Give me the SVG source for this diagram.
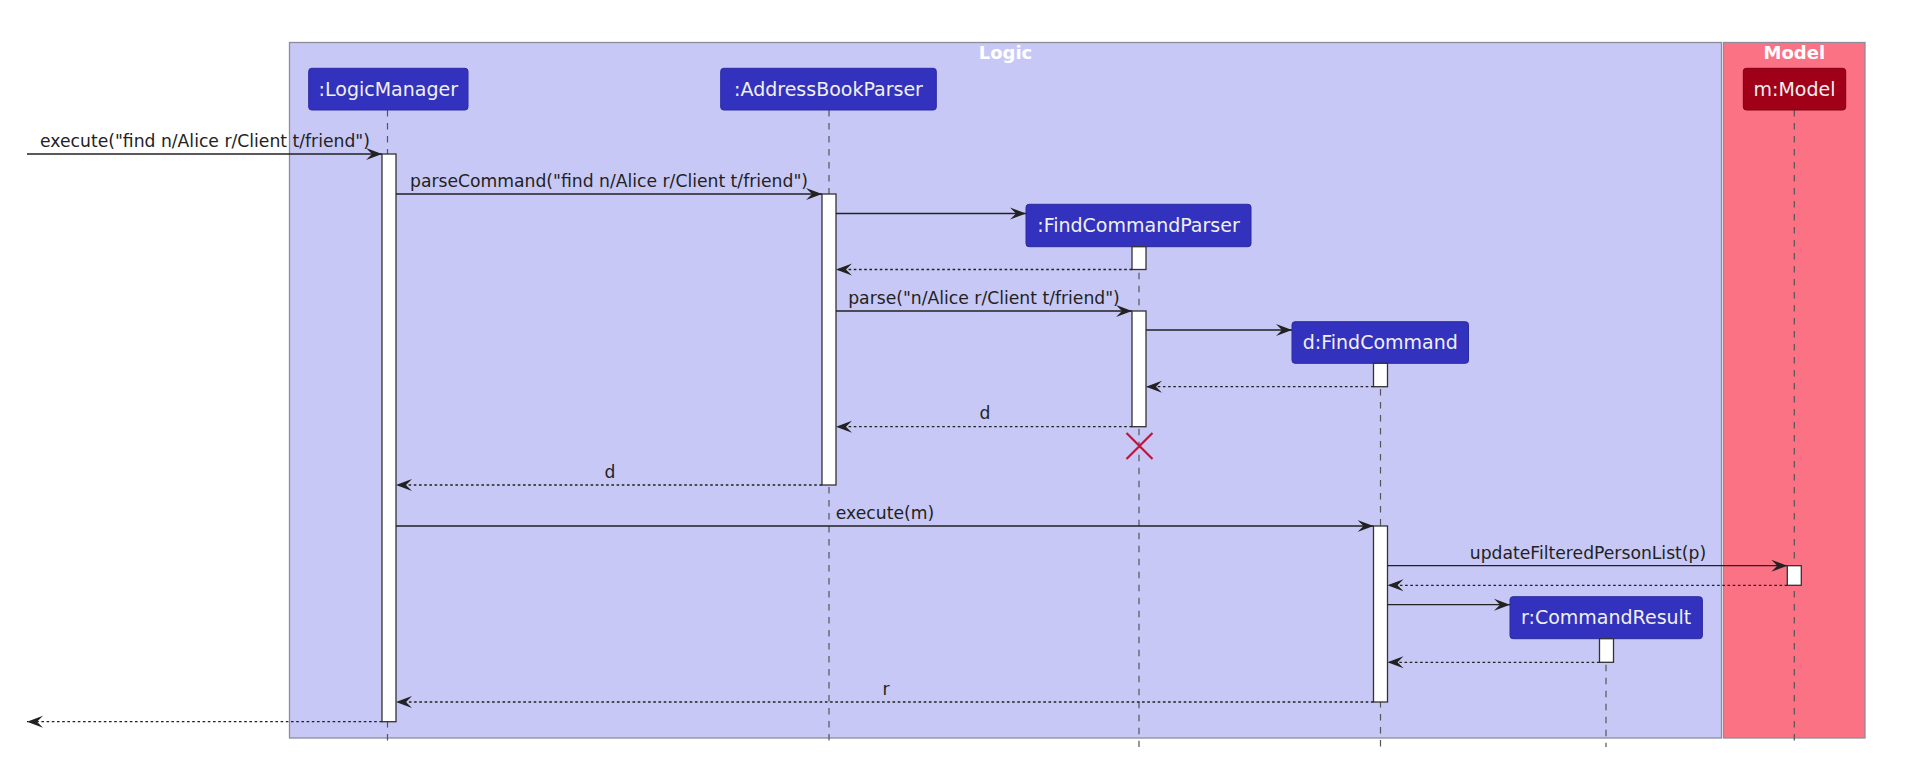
<svg xmlns="http://www.w3.org/2000/svg" width="1906" height="766" viewBox="0 0 1906 766">
<style>
.frame-logic{fill:#C8C8F6;stroke:#8C8C9C;stroke-width:1.3}
.frame-model{fill:#FB7285;stroke:#8C8C9C;stroke-width:1.3}
.ftitle{font-family:"DejaVu Sans",sans-serif;font-weight:bold;font-size:18px;fill:#FFFFFF;text-anchor:middle}
.life{stroke:#555;stroke-width:1.2;stroke-dasharray:6.5,6.5;fill:none}
.head{fill:#3232BE;stroke:#2A2AA0;stroke-width:1}
.head-red{fill:#A10019;stroke:#800014;stroke-width:1}
.ptxt{font-family:"DejaVu Sans",sans-serif;font-size:19px;fill:#F0F0F0;text-anchor:middle}
.act{fill:#FFFFFF;stroke:#333;stroke-width:1.3}
.msg{stroke:#222;stroke-width:1.3;fill:none;marker-end:url(#arr)}
.ret{stroke:#222;stroke-width:1.3;fill:none;stroke-dasharray:2.6,2.6;marker-end:url(#arr)}
.mtxt{font-family:"DejaVu Sans",sans-serif;font-size:17.2px;fill:#222;text-anchor:middle}
.kill{stroke:#C0143C;stroke-width:2.2;fill:none}
</style>
<defs>
<marker id="arr" markerUnits="userSpaceOnUse" viewBox="0 0 17 14" refX="16" refY="7" markerWidth="17" markerHeight="14" orient="auto">
<path d="M0,1 L16,7 L0,13 L6,7 Z" fill="#222"/>
</marker>
</defs>
<rect width="1906" height="766" fill="#FFFFFF"/>
<g id="box-logic">
<rect class="frame-logic" x="289.5" y="42.5" width="1432" height="695.5"/>
<text class="ftitle" x="1005.5" y="58.5">Logic</text>
</g>
<g id="box-model">
<rect class="frame-model" x="1723.5" y="42.5" width="141.5" height="695.5"/>
<text class="ftitle" x="1794.3" y="58.5">Model</text>
</g>
<g id="logicmanager">
<line class="life" x1="387.5" y1="110" x2="387.5" y2="747"/>
<rect class="head" x="308.7" y="68.3" width="159.3" height="41.7" rx="3"/>
<text class="ptxt" x="388.3" y="95.7">:LogicManager</text>
<rect class="act" x="382" y="154" width="14" height="567.7"/>
</g>
<g id="addressbookparser">
<line class="life" x1="829" y1="110" x2="829" y2="747"/>
<rect class="head" x="720.7" y="68.3" width="215.6" height="41.7" rx="3"/>
<text class="ptxt" x="828.5" y="95.7">:AddressBookParser</text>
<rect class="act" x="822" y="194" width="14" height="291"/>
</g>
<g id="findcommandparser">
<line class="life" x1="1139" y1="246.7" x2="1139" y2="747"/>
<rect class="head" x="1026" y="204.3" width="225" height="42.4" rx="3"/>
<text class="ptxt" x="1138.5" y="231.7">:FindCommandParser</text>
<rect class="act" x="1132" y="246.7" width="14" height="22.8"/>
<rect class="act" x="1132" y="311" width="14" height="115.7"/>
<path class="kill" d="M1126.5,433 L1152.5,459 M1152.5,433 L1126.5,459"/>
</g>
<g id="findcommand">
<line class="life" x1="1380.5" y1="363" x2="1380.5" y2="747"/>
<rect class="head" x="1292" y="321.7" width="176.5" height="41.6" rx="3"/>
<text class="ptxt" x="1380.3" y="349.1">d:FindCommand</text>
<rect class="act" x="1373.5" y="363.3" width="14" height="23.4"/>
<rect class="act" x="1373.5" y="526" width="14" height="176"/>
</g>
<g id="commandresult">
<line class="life" x1="1606" y1="638.7" x2="1606" y2="747"/>
<rect class="head" x="1510" y="596.7" width="192.4" height="42" rx="3"/>
<text class="ptxt" x="1606.2" y="624.1">r:CommandResult</text>
<rect class="act" x="1599.5" y="638.7" width="14" height="23.6"/>
</g>
<g id="model">
<line class="life" x1="1794.3" y1="110" x2="1794.3" y2="747"/>
<rect class="head-red" x="1743.3" y="68.3" width="102.4" height="41.7" rx="3"/>
<text class="ptxt" x="1794.5" y="95.7">m:Model</text>
<rect class="act" x="1787.3" y="565.7" width="14" height="19.6"/>
</g>
<g id="connectors">
<line class="msg" x1="27" y1="154" x2="382" y2="154"/>
<text class="mtxt" x="205" y="146.7">execute("find n/Alice r/Client t/friend")</text>
<line class="msg" x1="396" y1="194" x2="822" y2="194"/>
<text class="mtxt" x="609" y="186.7">parseCommand("find n/Alice r/Client t/friend")</text>
<line class="msg" x1="836" y1="213.5" x2="1026" y2="213.5"/>
<line class="ret" x1="1132" y1="269.5" x2="836" y2="269.5"/>
<line class="msg" x1="836" y1="311" x2="1132" y2="311"/>
<text class="mtxt" x="984" y="303.5">parse("n/Alice r/Client t/friend")</text>
<line class="msg" x1="1146" y1="330" x2="1292" y2="330"/>
<line class="ret" x1="1373.5" y1="386.7" x2="1146" y2="386.7"/>
<line class="ret" x1="1132" y1="426.7" x2="836" y2="426.7"/>
<text class="mtxt" x="985" y="419.3">d</text>
<line class="ret" x1="822" y1="485" x2="396" y2="485"/>
<text class="mtxt" x="610" y="477.5">d</text>
<line class="msg" x1="396" y1="526" x2="1373.5" y2="526"/>
<text class="mtxt" x="885" y="518.5">execute(m)</text>
<line class="msg" x1="1387.5" y1="565.7" x2="1787.3" y2="565.7"/>
<text class="mtxt" x="1588" y="558.5">updateFilteredPersonList(p)</text>
<line class="ret" x1="1787.3" y1="585.3" x2="1387.5" y2="585.3"/>
<line class="msg" x1="1387.5" y1="604.7" x2="1510" y2="604.7"/>
<line class="ret" x1="1599.5" y1="662.3" x2="1387.5" y2="662.3"/>
<line class="ret" x1="1373.5" y1="702" x2="396" y2="702"/>
<text class="mtxt" x="886" y="694.5">r</text>
<line class="ret" x1="382" y1="721.7" x2="27" y2="721.7"/>
</g>
</svg>
